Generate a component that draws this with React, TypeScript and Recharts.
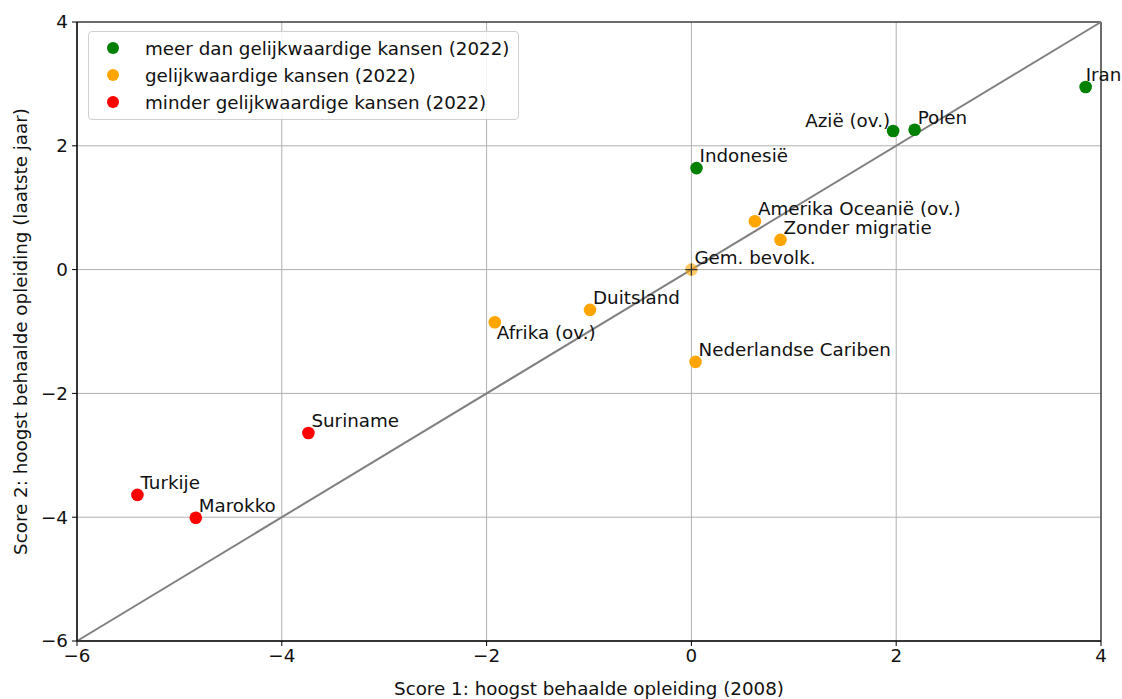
import React from 'react';
import {
  ScatterChart,
  Scatter,
  XAxis,
  YAxis,
  CartesianGrid,
  ReferenceLine,
  ReferenceArea,
  Label,
} from 'recharts';

// ---- data ----
const meerNames = ['Iran', 'Azië (ov.)', 'Polen', 'Indonesië'];
const meerX = [3.85, 1.97, 2.18, 0.05];
const meerY = [2.95, 2.24, 2.26, 1.64];

const gelijkNames = ['Amerika Oceanië (ov.)', 'Zonder migratie', 'Duitsland', 'Afrika (ov.)', 'Nederlandse Cariben'];
const gelijkX = [0.62, 0.87, -0.99, -1.92, 0.04];
const gelijkY = [0.78, 0.48, -0.65, -0.85, -1.49];

const minderNames = ['Suriname', 'Turkije', 'Marokko'];
const minderX = [-3.74, -5.41, -4.84];
const minderY = [-2.64, -3.64, -4.01];

const gemNames = ['Gem. bevolk.'];
const gemX = [0];
const gemY = [0];

const axisTicks = [-6, -4, -2, 0, 2, 4];
const diagonalEnds = [-6, 4];

const legendLabels = [
  'meer dan gelijkwaardige kansen (2022)',
  'gelijkwaardige kansen (2022)',
  'minder gelijkwaardige kansen (2022)',
];

// ---- styling ----
const FONT = '"DejaVu Sans", sans-serif';
const FS = 18.3;
const COLORS = ['#008000', '#FFA500', '#FF0000'];
const labelPlacement: Record<string, 'left' | 'below' | 'right' | 'tight'> = {
  'Azië (ov.)': 'left',
  'Afrika (ov.)': 'below',
  Iran: 'tight',
};

const build = (names: string[], xs: number[], ys: number[]) =>
  names.map((name, i) => ({ name, x: xs[i], y: ys[i] }));

const meerData = build(meerNames, meerX, meerY);
const gelijkData = build(gelijkNames, gelijkX, gelijkY);
const minderData = build(minderNames, minderX, minderY);
const gemData = build(gemNames, gemX, gemY);

const fmt = (v: number) => (v < 0 ? '\u2212' + Math.abs(v) : String(v));

const makeShape = (color: string, plus = false) => (props: any) => {
  const { cx, cy, payload } = props;
  if (cx == null || cy == null) return null;
  const place = labelPlacement[payload.name] || 'right';
  let tx = cx + 3;
  let ty = cy - 6;
  let anchor: 'start' | 'end' = 'start';
  if (place === 'left') {
    tx = cx - 3;
    ty = cy - 4;
    anchor = 'end';
  } else if (place === 'below') {
    tx = cx + 2;
    ty = cy + 17;
  } else if (place === 'tight') {
    tx = cx;
  }
  return (
    <g>
      <circle cx={cx} cy={cy} r={6.3} fill={color} fillOpacity={plus ? 0.6 : 1} />
      {plus && (
        <g stroke="#333" strokeWidth={1.2}>
          <line x1={cx - 6} y1={cy} x2={cx + 6} y2={cy} />
          <line x1={cx} y1={cy - 6} x2={cx} y2={cy + 6} />
        </g>
      )}
      <text x={tx} y={ty} textAnchor={anchor} fontSize={FS} fontFamily={FONT} fill="#111">
        {payload.name}
      </text>
    </g>
  );
};

const LegendBox = () => (
  <div
    style={{
      position: 'absolute',
      left: 88,
      top: 31,
      width: 431,
      height: 89,
      boxSizing: 'border-box',
      border: '1px solid #d0d0d0',
      borderRadius: 4,
      background: 'rgba(255,255,255,0.85)',
      fontFamily: FONT,
      fontSize: FS,
      color: '#111',
    }}
  >
    {legendLabels.map((lab, i) => (
      <div
        key={lab}
        style={{
          position: 'absolute',
          left: 0,
          top: 16 + 27 * i - 13,
          height: 26,
          display: 'flex',
          alignItems: 'center',
          whiteSpace: 'nowrap',
        }}
      >
        <span
          style={{
            display: 'inline-block',
            width: 12,
            height: 12,
            borderRadius: 6,
            background: COLORS[i],
            marginLeft: 18,
            marginRight: 26,
          }}
        />
        <span>{lab}</span>
      </div>
    ))}
  </div>
);

export default function App() {
  return (
    <div style={{ position: 'absolute', left: 0, top: 0, width: 1122, height: 699, background: '#fff' }}>
      <ScatterChart width={1122} height={699} margin={{ top: 22, right: 21, bottom: 0, left: 0 }}>
        <CartesianGrid stroke="#b0b0b0" strokeWidth={1} />
        <XAxis
          type="number"
          dataKey="x"
          domain={[-6, 4]}
          ticks={axisTicks}
          tickFormatter={fmt}
          height={58}
          tickSize={5}
          tickMargin={3}
          axisLine={{ stroke: '#000' }}
          tickLine={{ stroke: '#000' }}
          tick={{ fill: '#111', fontSize: FS, fontFamily: FONT }}
        >
          <Label
            content={(p: any) => {
              const vb = p.viewBox;
              return (
                <text
                  x={vb.x + vb.width / 2}
                  y={vb.y + 54}
                  textAnchor="middle"
                  fontSize={FS}
                  fontFamily={FONT}
                  fill="#111"
                >
                  Score 1: hoogst behaalde opleiding (2008)
                </text>
              );
            }}
          />
        </XAxis>
        <YAxis
          type="number"
          dataKey="y"
          domain={[-6, 4]}
          ticks={axisTicks}
          tickFormatter={fmt}
          width={77}
          tickSize={5}
          tickMargin={4}
          axisLine={{ stroke: '#000' }}
          tickLine={{ stroke: '#000' }}
          tick={{ fill: '#111', fontSize: FS, fontFamily: FONT }}
        >
          <Label
            content={(p: any) => {
              const vb = p.viewBox;
              const cx = 20;
              const cy = vb.y + vb.height / 2;
              return (
                <text
                  x={cx}
                  y={cy}
                  textAnchor="middle"
                  dominantBaseline="central"
                  transform={`rotate(-90 ${cx} ${cy})`}
                  fontSize={FS}
                  fontFamily={FONT}
                  fill="#111"
                >
                  Score 2: hoogst behaalde opleiding (laatste jaar)
                </text>
              );
            }}
          />
        </YAxis>
        <ReferenceArea x1={-6} x2={4} y1={-6} y2={4} fill="none" stroke="#000" strokeWidth={1} />
        <Scatter name={legendLabels[0]} data={meerData} fill={COLORS[0]} shape={makeShape(COLORS[0])} isAnimationActive={false} />
        <Scatter name={legendLabels[1]} data={gelijkData} fill={COLORS[1]} shape={makeShape(COLORS[1])} isAnimationActive={false} />
        <Scatter name={legendLabels[2]} data={minderData} fill={COLORS[2]} shape={makeShape(COLORS[2])} isAnimationActive={false} />
        <Scatter name="gem" data={gemData} fill={COLORS[1]} shape={makeShape(COLORS[1], true)} isAnimationActive={false} />
        <ReferenceLine
          segment={[
            { x: diagonalEnds[0], y: diagonalEnds[0] },
            { x: diagonalEnds[1], y: diagonalEnds[1] },
          ]}
          stroke="#808080"
          strokeWidth={2}
        />
      </ScatterChart>
      <LegendBox />
    </div>
  );
}
